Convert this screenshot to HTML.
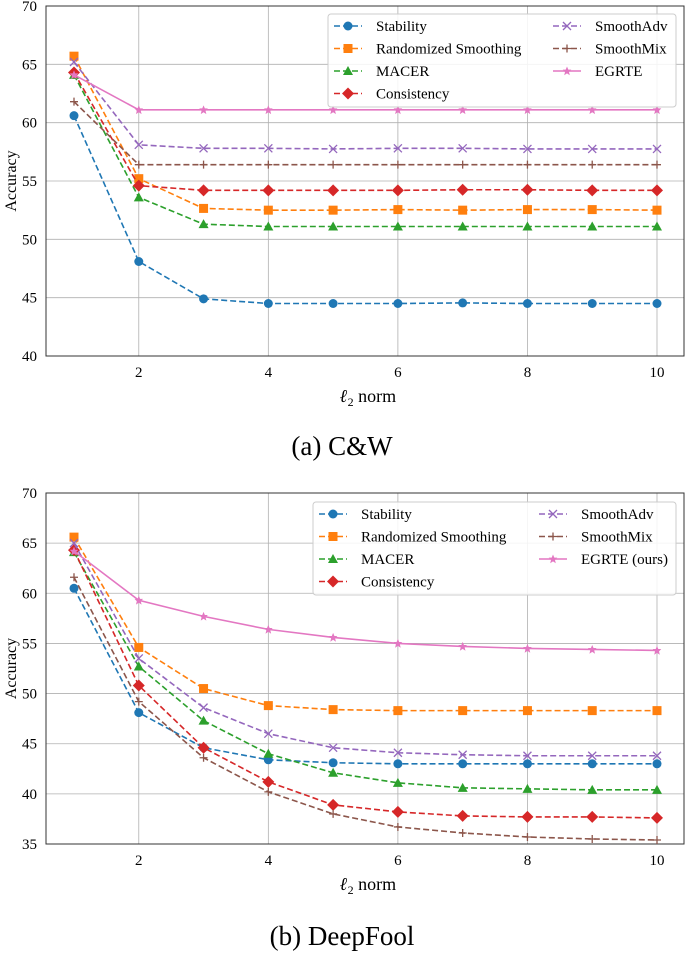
<!DOCTYPE html>
<html><head><meta charset="utf-8"><style>
html,body{margin:0;padding:0;background:#fff;width:685px;height:960px;overflow:hidden}
svg{display:block;font-family:"Liberation Serif",serif}
</style></head><body>
<svg id="s" width="685" height="960">
<text x="342" y="455" font-size="27" text-anchor="middle">(a) C&amp;W</text>
<text x="342" y="945" font-size="27" text-anchor="middle">(b) DeepFool</text>
</svg>
<script>
const xs=[1,2,3,4,5,6,7,8,9,10];
const xTicks=[2,4,6,8,10];
const names=["Stability","Randomized Smoothing","MACER","Consistency","SmoothAdv","SmoothMix","EGRTE"];
const names2=["Stability","Randomized Smoothing","MACER","Consistency","SmoothAdv","SmoothMix","EGRTE (ours)"];
const colors=["#1f77b4","#ff7f0e","#2ca02c","#d62728","#9467bd","#8c564b","#e377c2"];
const markers=["o","s","^","D","x","+","*"];
const cwStability=[60.6,48.1,44.9,44.5,44.5,44.5,44.55,44.5,44.5,44.5];
const cwRS=[65.7,55.2,52.65,52.5,52.5,52.55,52.5,52.55,52.55,52.5];
const cwMACER=[64.1,53.6,51.3,51.1,51.1,51.1,51.1,51.1,51.1,51.1];
const cwConsistency=[64.3,54.6,54.2,54.2,54.2,54.2,54.25,54.25,54.2,54.2];
const cwSmoothAdv=[65.2,58.1,57.8,57.8,57.75,57.8,57.8,57.75,57.75,57.75];
const cwSmoothMix=[61.8,56.4,56.4,56.4,56.4,56.4,56.4,56.4,56.4,56.4];
const cwEGRTE=[64.1,61.1,61.1,61.1,61.1,61.1,61.1,61.1,61.1,61.1];
const dfStability=[60.5,48.1,44.6,43.4,43.1,43.0,43.0,43.0,43.0,43.0];
const dfRS=[65.6,54.6,50.5,48.8,48.4,48.3,48.3,48.3,48.3,48.3];
const dfMACER=[64.1,52.7,47.3,44.0,42.1,41.1,40.6,40.5,40.4,40.4];
const dfConsistency=[64.3,50.8,44.6,41.2,38.9,38.2,37.8,37.7,37.7,37.6];
const dfSmoothAdv=[65.0,53.5,48.6,46.0,44.6,44.1,43.9,43.8,43.8,43.8];
const dfSmoothMix=[61.6,49.2,43.6,40.2,38.0,36.7,36.1,35.7,35.5,35.4];
const dfEGRTE=[64.2,59.3,57.7,56.4,55.6,55.0,54.7,54.5,54.4,54.3];
const yTicksCW=[40,45,50,55,60,65,70];
const yTicksDF=[35,40,45,50,55,60,65,70];
const NS="http://www.w3.org/2000/svg";
const svg=document.getElementById('s');
function mk(t,a,p){const e=document.createElementNS(NS,t);for(const k in a)e.setAttribute(k,a[k]);(p||svg).appendChild(e);return e;}
function marker(g,m,x,y,c){
  let e;
  if(m==="o")e=mk('circle',{cx:x,cy:y,r:4.5,fill:c},g);
  else if(m==="s")e=mk('rect',{x:x-4.5,y:y-4.5,width:9,height:9,fill:c},g);
  else if(m==="^")e=mk('polygon',{points:`${x},${y-5} ${x-5},${y+4} ${x+5},${y+4}`,fill:c},g);
  else if(m==="D")e=mk('polygon',{points:`${x},${y-6} ${x+6},${y} ${x},${y+6} ${x-6},${y}`,fill:c},g);
  else if(m==="x")e=mk('path',{d:`M${x-4},${y-4}L${x+4},${y+4}M${x-4},${y+4}L${x+4},${y-4}`,stroke:c,'stroke-width':1.3},g);
  else if(m==="+")e=mk('path',{d:`M${x-4},${y}L${x+4},${y}M${x},${y-4}L${x},${y+4}`,stroke:c,'stroke-width':1.3},g);
  else e=mk('polygon',{points:`${x},${y-4.5} ${x+1.3},${y-1.4} ${x+4.3},${y-1.4} ${x+2},${y+1} ${x+2.8},${y+4.3} ${x},${y+2.4} ${x-2.8},${y+4.3} ${x-2},${y+1} ${x-4.3},${y-1.4} ${x-1.3},${y-1.4}`,fill:c},g);
  
  
}
function chart(id,top,bottom,ymin,ymax,yTicks,series,labels,leg){
  const L=46,R=684;
  const X=v=>74+(v-1)*(657-74)/9;
  const Y=v=>bottom-(v-ymin)*(bottom-top)/(ymax-ymin);
  const g=mk('g',{});
  
  
  xTicks.forEach(t=>{
    const l=mk('line',{x1:X(t),x2:X(t),y1:top,y2:bottom,stroke:'#b0b0b0','stroke-width':0.8},g);
    
    const tx=mk('text',{x:X(t),y:bottom+21,'font-size':15,'text-anchor':'middle'},g);tx.textContent=t;
    
  });
  yTicks.forEach(t=>{
    const l=mk('line',{x1:L,x2:R,y1:Y(t),y2:Y(t),stroke:'#b0b0b0','stroke-width':0.8},g);
    
    const tx=mk('text',{x:L-9,y:Y(t)+5,'font-size':15,'text-anchor':'end'},g);tx.textContent=t;
    
  });
  const fr=mk('rect',{x:L,y:top,width:R-L,height:bottom-top,fill:'none',stroke:'#333','stroke-width':1},g);
  
  const yl=mk('text',{x:0,y:0,'font-size':16,'text-anchor':'middle',transform:`translate(16,${(top+bottom)/2}) rotate(-90)`},g);yl.textContent='Accuracy';
  
  const xl=mk('text',{x:(L+R)/2+3,y:bottom+46,'font-size':18,'text-anchor':'middle'},g);
  xl.innerHTML='<tspan font-style="italic" font-weight="bold">ℓ</tspan><tspan font-size="12" dy="4">2</tspan><tspan dy="-4"> norm</tspan>';
  
  series.forEach((s,i)=>{
    const sg=mk('g',{},g);
    
    
    const p=mk('polyline',{points:s.map((v,j)=>X(xs[j])+','+Y(v)).join(' '),fill:'none',stroke:colors[i],'stroke-width':1.6,'stroke-dasharray':i===6?'none':'6,3'},sg);
    
    s.forEach((v,j)=>marker(sg,markers[i],X(xs[j]),Y(v),colors[i]));
  });
  const lg=mk('g',{},g);
  
  const lb=mk('rect',{x:leg.x,y:leg.y,width:leg.w,height:leg.h,rx:3,fill:'#fff','fill-opacity':0.85,stroke:'#ccc'},lg);
  
  labels.forEach((n,i)=>{
    const col=i<4?0:1,row=i<4?i:i-4;
    const x0=leg.x+6+col*leg.col2,y0=leg.y+12+row*leg.dy;
    const e=mk('g',{},lg);
    
    mk('line',{x1:x0,x2:x0+28,y1:y0,y2:y0,stroke:colors[i],'stroke-width':1.6,'stroke-dasharray':i===6?'none':'6,3'},e);
    marker(e,markers[i],x0+14,y0,colors[i]);
    const t=mk('text',{x:x0+42,y:y0+5,'font-size':15},e);t.textContent=n;
  });
}
chart('chart-cw',6,356,40,70,yTicksCW,[cwStability,cwRS,cwMACER,cwConsistency,cwSmoothAdv,cwSmoothMix,cwEGRTE],names,{x:328,y:14,w:348,h:93,col2:219,dy:22.5});
chart('chart-deepfool',493,844,35,70,yTicksDF,[dfStability,dfRS,dfMACER,dfConsistency,dfSmoothAdv,dfSmoothMix,dfEGRTE],names2,{x:313,y:502,w:363,h:93,col2:220,dy:22.5});
</script>
</body></html>
